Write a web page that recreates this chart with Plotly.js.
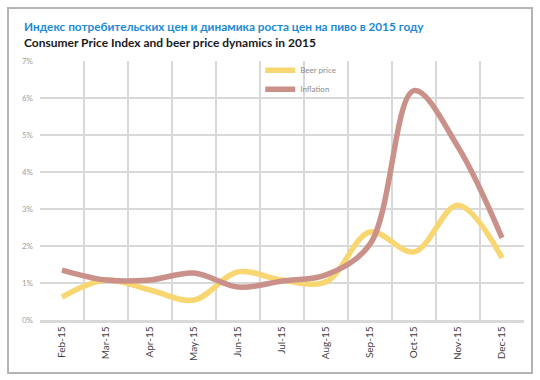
<!DOCTYPE html>
<html>
<head>
<meta charset="utf-8">
<script src="https://cdn.plot.ly/plotly-3.0.1.min.js"></script>
<style>
  html, body { margin: 0; padding: 0; background: #fff; }
  #wrap { position: relative; width: 540px; height: 380px; }
  #chart { width: 540px; height: 380px; }
  #frame { position: absolute; left: 7px; top: 7px; width: 522px; height: 363px;
           border: 2px solid #b4b4b4; pointer-events: none; }
</style>
</head>
<body>
<div id="wrap">
  <div id="chart"></div>
  <div id="frame"></div>
</div>
<script>
// Data (percent)
const months = ["Feb-15","Mar-15","Apr-15","May-15","Jun-15","Jul-15","Aug-15","Sep-15","Oct-15","Nov-15","Dec-15"];
const beerPrice = [0.62, 1.08, 0.81, 0.54, 1.30, 1.08, 1.03, 2.38, 1.84, 3.10, 1.68];
const inflation = [1.35, 1.08, 1.08, 1.27, 0.89, 1.05, 1.22, 2.05, 6.20, 4.68, 2.22];
const yTicks = [0, 1, 2, 3, 4, 5, 6, 7];
const yTickText = ["0%","1%","2%","3%","4%","5%","6%","7%"];
const titleRu = "Индекс потребительских цен и динамика роста цен на пиво в 2015 году";
const titleEn = "Consumer Price Index and beer price dynamics in 2015";
const seriesNames = ["Beer price", "Inflation"];

const traces = [
  { x: months, y: beerPrice, name: seriesNames[0], type: "scatter", mode: "lines",
    line: { color: "#f8d671", width: 5.5, shape: "spline", smoothing: 1 } },
  { x: months, y: inflation, name: seriesNames[1], type: "scatter", mode: "lines",
    line: { color: "#c99189", width: 5.5, shape: "spline", smoothing: 1 } }
];

const layout = {
  width: 540, height: 380,
  margin: { l: 40, r: 16, t: 61, b: 60 },
  paper_bgcolor: "#ffffff", plot_bgcolor: "#ffffff",
  font: { family: "Lato, 'Open Sans', sans-serif", color: "#404040" },
  showlegend: true,
  legend: { x: 0.455, y: 1.02, xanchor: "left", yanchor: "top",
            bgcolor: "rgba(255,255,255,0)", font: { size: 8, color: "#8a8a8a" },
            itemwidth: 30, tracegroupgap: 0 },
  xaxis: { type: "category", tickson: "boundaries", showgrid: true, gridcolor: "#d9d9d9", gridwidth: 2.5,
           tickangle: -90, tickfont: { size: 10, color: "#404040" }, ticks: "",
           showline: true, linecolor: "#d9d9d9", linewidth: 2.5, range: [-0.5, 10.5], fixedrange: true },
  yaxis: { range: [0, 7], tickvals: yTicks, ticktext: yTickText, showgrid: true,
           gridcolor: "#d9d9d9", gridwidth: 2.5, zeroline: false, ticks: "",
           tickfont: { size: 8, color: "#a0a0a0" }, ticklabelstandoff: 6, fixedrange: true },
  annotations: [
    { text: titleRu, xref: "paper", yref: "paper", x: -0.037, y: 1.135, xanchor: "left", yanchor: "middle",
      showarrow: false, font: { family: "Lato, sans-serif", size: 11.8, color: "#1b8ad3", weight: 700 } },
    { text: titleEn, xref: "paper", yref: "paper", x: -0.037, y: 1.071, xanchor: "left", yanchor: "middle",
      showarrow: false, font: { family: "Lato, sans-serif", size: 12, color: "#1a1a1a", weight: 700 } }
  ]
};

Plotly.newPlot("chart", traces, layout, { displayModeBar: false, staticPlot: true });
</script>
</body>
</html>
